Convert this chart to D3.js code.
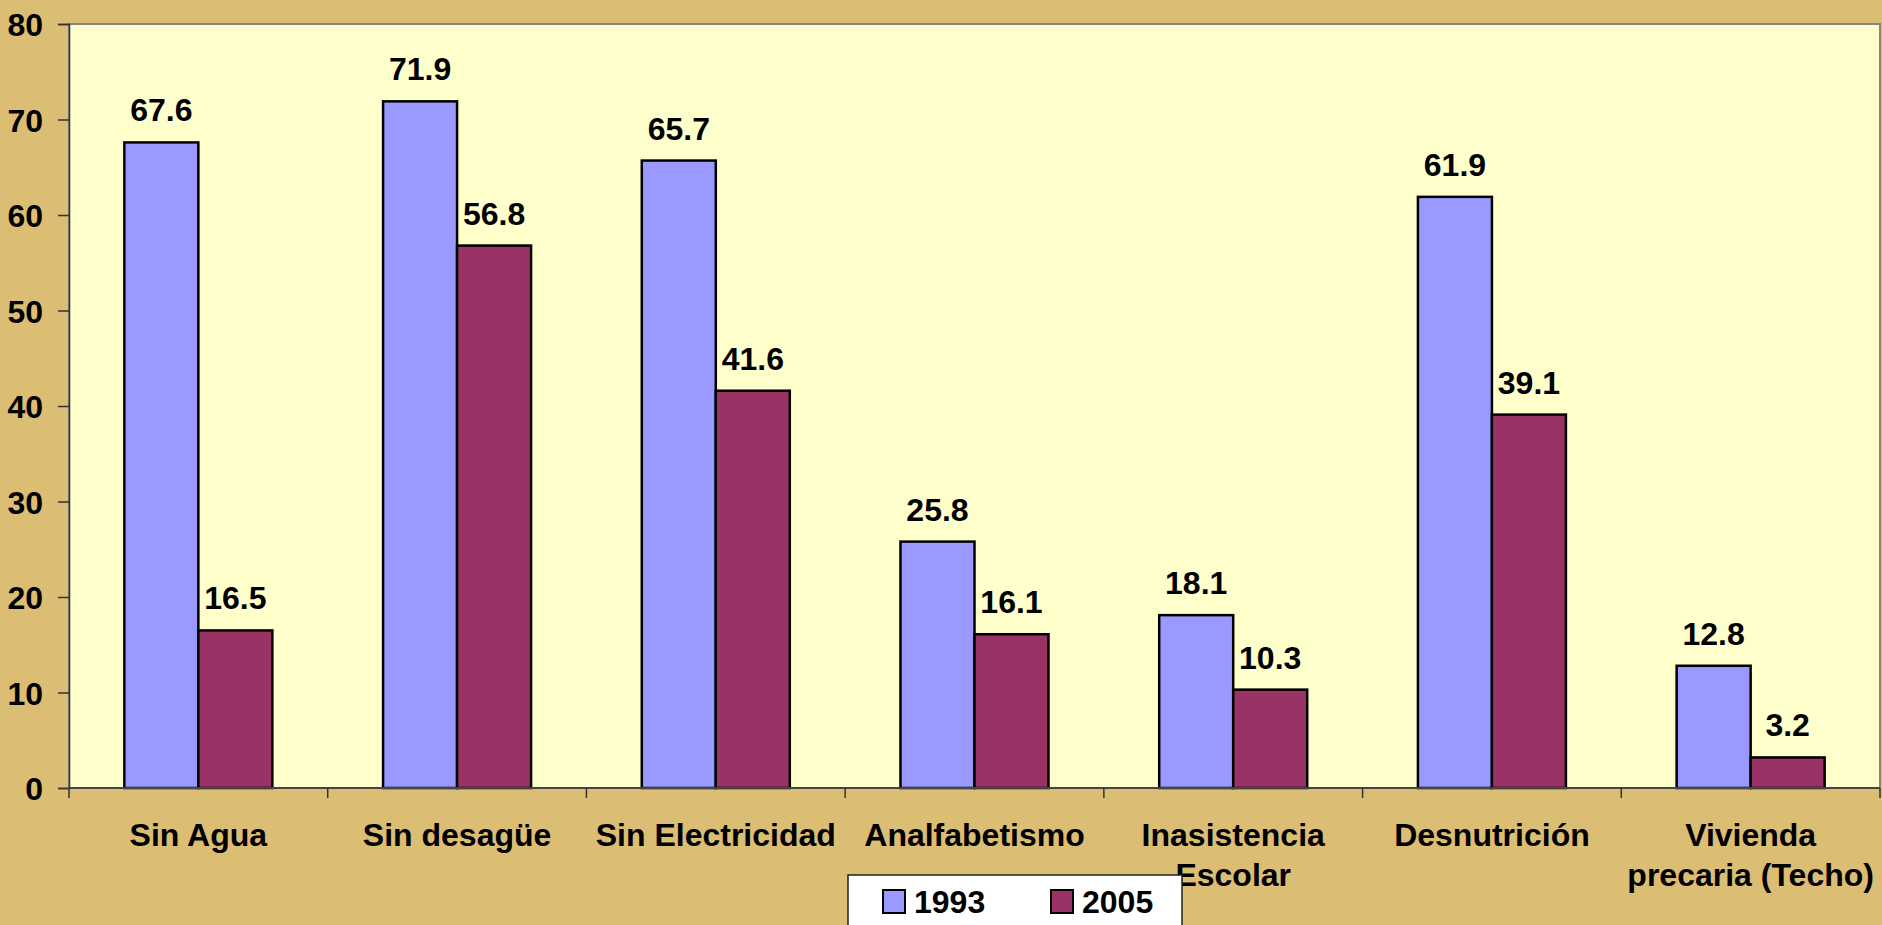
<!DOCTYPE html>
<html>
<head>
<meta charset="utf-8">
<script src="https://cdn.jsdelivr.net/npm/d3@7"></script>
<style>
  html, body { margin: 0; padding: 0; background: #DBBD73; }
  svg text { font-family: "Liberation Sans", Arial, sans-serif; font-weight: bold; fill: #000; }
</style>
</head>
<body>
<div id="chart"></div>
<script>
var categories = [
    ["Sin Agua"],
    ["Sin desagüe"],
    ["Sin Electricidad"],
    ["Analfabetismo"],
    ["Inasistencia", "Escolar"],
    ["Desnutrición"],
    ["Vivienda", "precaria (Techo)"]
];
var seriesNames = ["1993", "2005"];
var values1993 = [67.6, 71.9, 65.7, 25.8, 18.1, 61.9, 12.8];
var values2005 = [16.5, 56.8, 41.6, 16.1, 10.3, 39.1, 3.2];
var yTicks = [0, 10, 20, 30, 40, 50, 60, 70, 80];
var colors = ["#9999FF", "#993366"];

var W = 1882, H = 925;
var margin = {top: 24, right: 2, bottom: 137, left: 69},
    width = W - margin.left - margin.right,
    height = H - margin.top - margin.bottom;

var svg = d3.select("#chart").append("svg")
    .attr("width", W)
    .attr("height", H);

svg.append("rect")
    .attr("width", W).attr("height", H)
    .attr("fill", "#DBBD73");

var g = svg.append("g")
    .attr("transform", "translate(" + margin.left + "," + margin.top + ")");

var x0 = d3.scaleBand()
    .domain(d3.range(categories.length))
    .range([0, width]);

var x1 = d3.scaleBand()
    .domain(seriesNames)
    .range([0, 148])
    .padding(0);

var y = d3.scaleLinear()
    .domain([0, 80])
    .range([height, 0]);

// plot area
g.append("rect")
    .attr("width", width).attr("height", height)
    .attr("fill", "#FFFFCC")
    .attr("stroke", "#858585")
    .attr("stroke-width", 2);

// y axis
var yAxis = d3.axisLeft(y).tickValues(yTicks).tickSize(11).tickPadding(15);
var ya = g.append("g").attr("class", "y axis").call(yAxis);
ya.select(".domain").attr("stroke", "#333").attr("stroke-width", 1.5);
ya.selectAll(".tick line").attr("stroke", "#333").attr("stroke-width", 1.5);
ya.selectAll(".tick text")
    .style("font-size", "32px")
    .attr("dy", "0.36em");

var data = categories.map(function(c, i) {
    return {i: i, vals: [{k: "1993", v: values1993[i]}, {k: "2005", v: values2005[i]}]};
});

var groups = g.selectAll(".grp")
    .data(data)
    .enter().append("g")
    .attr("class", "grp")
    .attr("transform", function(d) {
        return "translate(" + (x0(d.i) + (x0.bandwidth() - 148) / 2) + ",0)";
    });

groups.selectAll("rect")
    .data(function(d) { return d.vals; })
    .enter().append("rect")
    .attr("x", function(d) { return x1(d.k); })
    .attr("y", function(d) { return y(d.v); })
    .attr("width", x1.bandwidth())
    .attr("height", function(d) { return height - y(d.v); })
    .attr("fill", function(d, j) { return colors[j]; })
    .attr("stroke", "#000")
    .attr("stroke-width", 2.5);

groups.selectAll(".val")
    .data(function(d) { return d.vals; })
    .enter().append("text")
    .attr("class", "val")
    .attr("x", function(d) { return x1(d.k) + x1.bandwidth() / 2; })
    .attr("y", function(d) { return y(d.v) - 21; })
    .attr("text-anchor", "middle")
    .style("font-size", "32px")
    .text(function(d) { return d.v.toFixed(1); });

// x axis
g.append("line")
    .attr("x1", 0).attr("x2", width)
    .attr("y1", height).attr("y2", height)
    .attr("stroke", "#444").attr("stroke-width", 2);

g.selectAll(".xtick")
    .data(d3.range(categories.length + 1))
    .enter().append("line")
    .attr("class", "xtick")
    .attr("x1", function(d) { return d * x0.step(); })
    .attr("x2", function(d) { return d * x0.step(); })
    .attr("y1", height).attr("y2", height + 10)
    .attr("stroke", "#333").attr("stroke-width", 1.5);

var labels = g.selectAll(".xlab")
    .data(categories)
    .enter().append("text")
    .attr("class", "xlab")
    .attr("text-anchor", "middle")
    .attr("transform", function(d, i) {
        return "translate(" + (x0(i) + x0.bandwidth() / 2) + "," + (height + 58) + ")";
    })
    .style("font-size", "32px");

labels.selectAll("tspan")
    .data(function(d) { return d; })
    .enter().append("tspan")
    .attr("x", 0)
    .attr("y", function(d, j) { return j * 40; })
    .text(function(d) { return d; });

// legend
var legend = svg.append("g")
    .attr("transform", "translate(848,875)");

legend.append("rect")
    .attr("width", 334).attr("height", 60)
    .attr("fill", "#FFFFFF")
    .attr("stroke", "#222")
    .attr("stroke-width", 1.5);

var li = legend.selectAll(".li")
    .data(seriesNames)
    .enter().append("g")
    .attr("class", "li")
    .attr("transform", function(d, i) { return "translate(" + (35 + i * 168) + ",15)"; });

li.append("rect")
    .attr("width", 22).attr("height", 23)
    .attr("fill", function(d, i) { return colors[i]; })
    .attr("stroke", "#000")
    .attr("stroke-width", 2);

li.append("text")
    .attr("x", 31)
    .attr("y", 23)
    .style("font-size", "32px")
    .text(function(d) { return d; });
</script>
</body>
</html>
